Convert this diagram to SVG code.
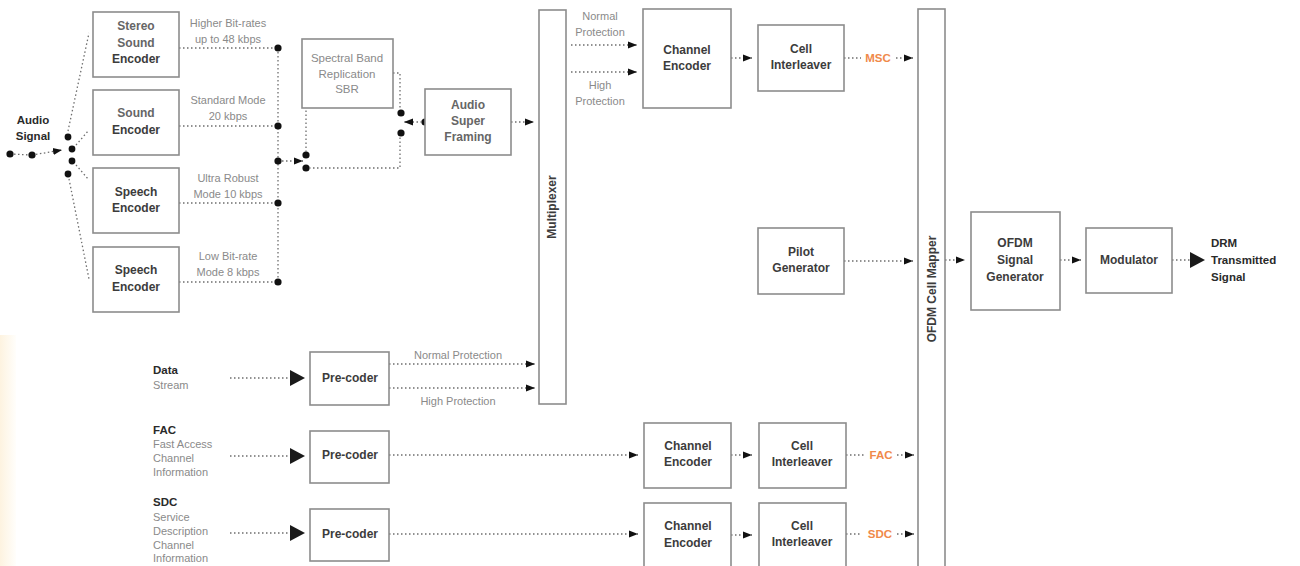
<svg xmlns="http://www.w3.org/2000/svg" width="1300" height="566" viewBox="0 0 1300 566">
<defs>
<style>
.box{fill:#fff;stroke:#8c8c8c;stroke-width:1.6}
.bl{font-family:"Liberation Sans",Arial,sans-serif;font-size:12px;font-weight:bold;fill:#3c3c3c;text-anchor:middle}
.bl2{font-family:"Liberation Sans",Arial,sans-serif;font-size:12px;font-weight:bold;fill:#666;text-anchor:middle}
.ann{font-family:"Liberation Sans",Arial,sans-serif;font-size:11px;fill:#8a8a8a;text-anchor:middle}
.lbl{font-family:"Liberation Sans",Arial,sans-serif;font-size:11px;fill:#8a8a8a}
.lblb{font-family:"Liberation Sans",Arial,sans-serif;font-size:11.5px;font-weight:bold;fill:#2a2a2a}
.or{font-family:"Liberation Sans",Arial,sans-serif;font-size:11.5px;font-weight:bold;fill:#f0894a;text-anchor:middle}
.d{fill:none;stroke:#6e6e6e;stroke-width:1.3;stroke-dasharray:1.5 2.5}
.da{fill:none;stroke:#6e6e6e;stroke-width:1.3;stroke-dasharray:1.5 2.5;marker-end:url(#ah)}
.dot{fill:#111}
.tri{fill:#1a1a1a}
</style>
<marker id="ah" markerUnits="userSpaceOnUse" markerWidth="10" markerHeight="9" refX="9" refY="4.5" orient="auto">
<path d="M0,1 L9,4.5 L0,8 Z" fill="#111"/>
</marker>
<linearGradient id="cream" x1="0" y1="0" x2="1" y2="0">
<stop offset="0" stop-color="#fdf3e0"/>
<stop offset="1" stop-color="#fffefb"/>
</linearGradient>
</defs>
<rect x="0" y="0" width="1300" height="566" fill="#fff"/>
<rect x="0" y="335" width="16" height="231" fill="url(#cream)"/>

<g id="connectors">
<path class="d" d="M10,154 L32,155"/>
<path class="da" d="M32,155 L62,150"/>
<circle class="dot" cx="10" cy="154" r="3.6"/>
<circle class="dot" cx="32" cy="155" r="3.6"/>
<circle class="dot" cx="68" cy="137" r="3.4"/>
<circle class="dot" cx="72" cy="149" r="3.4"/>
<circle class="dot" cx="72" cy="161" r="3.4"/>
<circle class="dot" cx="68" cy="174" r="3.4"/>
<path class="d" d="M68,131 L89,33"/>
<path class="d" d="M76,145 L89,130"/>
<path class="d" d="M76,165 L89,180"/>
<path class="d" d="M69,179 L89,279"/>
<path class="d" d="M179,48 L278,48"/>
<path class="d" d="M179,126 L278,126"/>
<path class="d" d="M179,203 L278,203"/>
<path class="d" d="M179,282 L278,282"/>
<path class="d" d="M278,48 L278,282"/>
<circle class="dot" cx="278" cy="48" r="3.6"/>
<circle class="dot" cx="278" cy="126" r="3.6"/>
<circle class="dot" cx="278" cy="161" r="3.6"/>
<circle class="dot" cx="278" cy="203" r="3.6"/>
<circle class="dot" cx="278" cy="282" r="3.6"/>
<path class="da" d="M282,161 L303,161"/>
<circle class="dot" cx="306" cy="155" r="3.6"/>
<circle class="dot" cx="306" cy="168" r="3.6"/>
<path class="d" d="M306,152 L306,108"/>
<path class="d" d="M309,168 L400,168 L400,136"/>
<path class="d" d="M393,73 L400,73 L400,110"/>
<circle class="dot" cx="401" cy="113" r="3.6"/>
<circle class="dot" cx="401" cy="133" r="3.6"/>
<circle class="dot" cx="425" cy="122" r="3.6"/>
<path class="da" d="M422,122 L404,122"/>
<path class="da" d="M511,122 L534,122"/>
<path class="da" d="M571,45 L637,45"/>
<path class="da" d="M571,72 L637,72"/>
<path class="da" d="M731,58 L752,58"/>
<path class="d" d="M844,58 L861,58"/>
<path class="da" d="M896,58 L913,58"/>
<path class="da" d="M844,261 L913,261"/>
<path class="da" d="M945,260 L965,260"/>
<path class="da" d="M1060,260 L1081,260"/>
<path class="d" d="M1172,260 L1190,260"/>
<polygon class="tri" points="1190,252 1205,260 1190,268"/>
<path class="d" d="M230,378 L290,378"/>
<polygon class="tri" points="290,370 305,378 290,386"/>
<path class="da" d="M389,364 L535,364"/>
<path class="da" d="M389,388 L535,388"/>
<path class="d" d="M230,456 L290,456"/>
<polygon class="tri" points="290,448 305,456 290,464"/>
<path class="da" d="M389,455 L638,455"/>
<path class="da" d="M731,455 L752,455"/>
<path class="d" d="M846,455 L864,455"/>
<path class="da" d="M897,455 L914,455"/>
<path class="d" d="M230,533 L290,533"/>
<polygon class="tri" points="290,525 305,533 290,541"/>
<path class="da" d="M389,534 L638,534"/>
<path class="da" d="M731,535 L752,535"/>
<path class="d" d="M846,534 L862,534"/>
<path class="da" d="M897,534 L914,534"/>
<text class="ann" x="228" y="27">Higher Bit-rates</text>
<text class="ann" x="228" y="43">up to 48 kbps</text>
<text class="ann" x="228" y="104">Standard Mode</text>
<text class="ann" x="228" y="120">20 kbps</text>
<text class="ann" x="228" y="182">Ultra Robust</text>
<text class="ann" x="228" y="198">Mode 10 kbps</text>
<text class="ann" x="228" y="260">Low Bit-rate</text>
<text class="ann" x="228" y="276">Mode 8 kbps</text>
<text class="ann" x="600" y="20">Normal</text>
<text class="ann" x="600" y="36">Protection</text>
<text class="ann" x="600" y="89">High</text>
<text class="ann" x="600" y="105">Protection</text>
<text class="ann" x="458" y="359">Normal Protection</text>
<text class="ann" x="458" y="405">High Protection</text>
<text class="or" x="878" y="62">MSC</text>
<text class="or" x="881" y="459">FAC</text>
<text class="or" x="880" y="538">SDC</text>
</g>

<g id="audio-signal">
<text class="lblb" x="33" y="124" text-anchor="middle">Audio</text>
<text class="lblb" x="33" y="140" text-anchor="middle">Signal</text>
</g>
<g id="stereo-sound-encoder">
<rect class="box" x="93" y="12" width="86" height="65"/>
<text class="bl2" x="136" y="30">Stereo</text>
<text class="bl2" x="136" y="47">Sound</text>
<text class="bl" x="136" y="63">Encoder</text>
</g>
<g id="sound-encoder">
<rect class="box" x="93" y="90" width="86" height="65"/>
<text class="bl2" x="136" y="117">Sound</text>
<text class="bl" x="136" y="134">Encoder</text>
</g>
<g id="speech-encoder-1">
<rect class="box" x="93" y="168" width="86" height="65"/>
<text class="bl" x="136" y="196">Speech</text>
<text class="bl" x="136" y="212">Encoder</text>
</g>
<g id="speech-encoder-2">
<rect class="box" x="93" y="247" width="86" height="65"/>
<text class="bl" x="136" y="274">Speech</text>
<text class="bl" x="136" y="291">Encoder</text>
</g>
<g id="sbr">
<rect class="box" x="302" y="39" width="91" height="69"/>
<text class="ann" x="347" y="62" style="font-size:11.5px">Spectral Band</text>
<text class="ann" x="347" y="78" style="font-size:11.5px">Replication</text>
<text class="ann" x="347" y="93" style="font-size:11.5px">SBR</text>
</g>
<g id="audio-super-framing">
<rect class="box" x="425" y="89" width="86" height="66"/>
<text class="bl2" x="468" y="109">Audio</text>
<text class="bl2" x="468" y="125">Super</text>
<text class="bl2" x="468" y="141">Framing</text>
</g>
<g id="multiplexer">
<rect class="box" x="539" y="10" width="27" height="394"/>
<text class="bl" transform="translate(556,207) rotate(-90)">Multiplexer</text>
</g>
<g id="channel-encoder-msc">
<rect class="box" x="643" y="9" width="88" height="99"/>
<text class="bl" x="687" y="54">Channel</text>
<text class="bl" x="687" y="70">Encoder</text>
</g>
<g id="cell-interleaver-msc">
<rect class="box" x="758" y="25" width="86" height="66"/>
<text class="bl" x="801" y="53">Cell</text>
<text class="bl" x="801" y="69">Interleaver</text>
</g>
<g id="pilot-generator">
<rect class="box" x="758" y="228" width="86" height="66"/>
<text class="bl" x="801" y="256">Pilot</text>
<text class="bl" x="801" y="272">Generator</text>
</g>
<g id="ofdm-cell-mapper">
<rect class="box" x="918" y="9" width="27" height="570"/>
<text class="bl" transform="translate(936,289) rotate(-90)">OFDM Cell Mapper</text>
</g>
<g id="ofdm-signal-generator">
<rect class="box" x="971" y="212" width="89" height="98"/>
<text class="bl" x="1015" y="247">OFDM</text>
<text class="bl" x="1015" y="264">Signal</text>
<text class="bl" x="1015" y="281">Generator</text>
</g>
<g id="modulator">
<rect class="box" x="1086" y="228" width="86" height="65"/>
<text class="bl" x="1129" y="264">Modulator</text>
</g>
<g id="drm-output">
<text class="lblb" x="1211" y="247">DRM</text>
<text class="lblb" x="1211" y="264">Transmitted</text>
<text class="lblb" x="1211" y="281">Signal</text>
</g>
<g id="data-stream">
<text class="lblb" x="153" y="374">Data</text>
<text class="lbl" x="153" y="389">Stream</text>
</g>
<g id="precoder-data">
<rect class="box" x="310" y="352" width="79" height="53"/>
<text class="bl" x="350" y="382">Pre-coder</text>
</g>
<g id="fac-input">
<text class="lblb" x="153" y="434">FAC</text>
<text class="lbl" x="153" y="448">Fast Access</text>
<text class="lbl" x="153" y="462">Channel</text>
<text class="lbl" x="153" y="476">Information</text>
</g>
<g id="precoder-fac">
<rect class="box" x="310" y="431" width="79" height="52"/>
<text class="bl" x="350" y="459">Pre-coder</text>
</g>
<g id="channel-encoder-fac">
<rect class="box" x="644" y="423" width="87" height="65"/>
<text class="bl" x="688" y="450">Channel</text>
<text class="bl" x="688" y="466">Encoder</text>
</g>
<g id="cell-interleaver-fac">
<rect class="box" x="759" y="423" width="87" height="65"/>
<text class="bl" x="802" y="450">Cell</text>
<text class="bl" x="802" y="466">Interleaver</text>
</g>
<g id="sdc-input">
<text class="lblb" x="153" y="506">SDC</text>
<text class="lbl" x="153" y="521">Service</text>
<text class="lbl" x="153" y="535">Description</text>
<text class="lbl" x="153" y="549">Channel</text>
<text class="lbl" x="153" y="562">Information</text>
</g>
<g id="precoder-sdc">
<rect class="box" x="310" y="509" width="79" height="52"/>
<text class="bl" x="350" y="538">Pre-coder</text>
</g>
<g id="channel-encoder-sdc">
<rect class="box" x="644" y="503" width="87" height="66"/>
<text class="bl" x="688" y="530">Channel</text>
<text class="bl" x="688" y="547">Encoder</text>
</g>
<g id="cell-interleaver-sdc">
<rect class="box" x="759" y="503" width="87" height="66"/>
<text class="bl" x="802" y="530">Cell</text>
<text class="bl" x="802" y="546">Interleaver</text>
</g>
</svg>
